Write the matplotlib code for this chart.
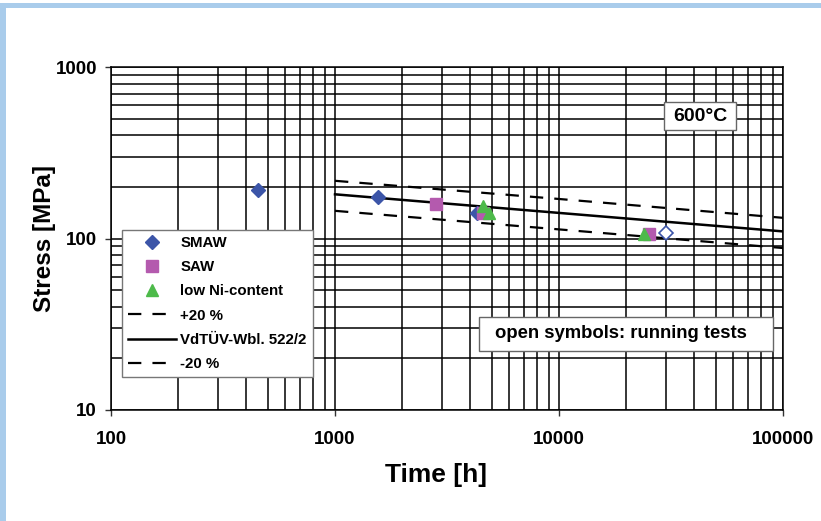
import matplotlib
matplotlib.use('Agg')
import matplotlib.pyplot as plt
from matplotlib.patches import Rectangle
from matplotlib.lines import Line2D
from matplotlib.ticker import FixedLocator, FixedFormatter, LogLocator, NullFormatter

plt.rcParams['font.family'] = ['Liberation Sans', 'DejaVu Sans']
plt.rcParams['font.weight'] = 'bold'

# ---- data ----
smaw_time = [452, 1563, 4310]
smaw_stress = [192, 175, 141]
saw_time = [2830, 4590, 25200]
saw_stress = [159, 141, 106]
lowni_time = [4590, 4880, 23900]
lowni_stress = [155, 141, 106]
running_smaw_time = [30000]
running_smaw_stress = [107]

curve_time = [1000, 10000, 100000]
vdtuv_stress = [181, 141, 110]
plus20_stress = [217, 170, 132]
minus20_stress = [145, 113, 88]

x_ticks = [100, 1000, 10000, 100000]
x_ticklabels = ['100', '1000', '10000', '100000']
y_ticks = [10, 100, 1000]
y_ticklabels = ['10', '100', '1000']

W, H = 821, 521
fig = plt.figure(figsize=(W / 100, H / 100), dpi=100)


def fx(px):
    return px / W


def fy(py):
    return 1 - py / H


# light blue frame
fig.add_artist(Rectangle((0, 0), fx(6), fy(3), transform=fig.transFigure,
                         color='#A9CCEB', lw=0, zorder=0))
fig.add_artist(Rectangle((0, fy(8)), 1, 5 / H, transform=fig.transFigure,
                         color='#A9CCEB', lw=0, zorder=0))

ax = fig.add_axes([fx(111), fy(410), fx(783) - fx(111), fy(67) - fy(410)])
ax.set_xscale('log')
ax.set_yscale('log')
ax.set_xlim(100, 100000)
ax.set_ylim(10, 1000)

ax.xaxis.set_major_locator(FixedLocator(x_ticks))
ax.xaxis.set_major_formatter(FixedFormatter(x_ticklabels))
ax.yaxis.set_major_locator(FixedLocator(y_ticks))
ax.yaxis.set_major_formatter(FixedFormatter(y_ticklabels))
ax.xaxis.set_minor_locator(LogLocator(base=10, subs=range(2, 10)))
ax.yaxis.set_minor_locator(LogLocator(base=10, subs=range(2, 10)))
ax.xaxis.set_minor_formatter(NullFormatter())
ax.yaxis.set_minor_formatter(NullFormatter())

ax.grid(True, which='both', color='black', lw=1.1)
ax.set_axisbelow(True)
ax.tick_params(which='major', direction='out', length=4, width=1, color='#333333',
               labelsize=13.5)
ax.tick_params(axis='x', which='major', pad=11)
ax.tick_params(axis='y', which='major', pad=6)
ax.tick_params(which='minor', length=0)
for lbl in ax.get_xticklabels() + ax.get_yticklabels():
    lbl.set_fontweight('bold')
for s in ax.spines.values():
    s.set_color('black')
    s.set_linewidth(1.1)

dash = (0, (6, 5))
ax.plot(curve_time, plus20_stress, color='black', lw=1.6, linestyle=dash, zorder=3)
ax.plot(curve_time, vdtuv_stress, color='black', lw=1.8, zorder=3)
ax.plot(curve_time, minus20_stress, color='black', lw=1.6, linestyle=dash, zorder=3)

blue = '#3C55A8'
mag = '#B45AAE'
green = '#4DBA4A'
ax.plot(smaw_time, smaw_stress, linestyle='none', marker='D', ms=6.8, color=blue, zorder=4)
ax.plot(saw_time, saw_stress, linestyle='none', marker='s', ms=8, color=mag, zorder=5)
ax.plot(lowni_time, lowni_stress, linestyle='none', marker='^', ms=9, color=green, zorder=6)
ax.plot(running_smaw_time, running_smaw_stress, linestyle='none', marker='D', ms=6.8,
        mfc='white', mec=blue, mew=1.2, zorder=4)

handles = [
    Line2D([], [], linestyle='none', marker='D', ms=6.8, color=blue),
    Line2D([], [], linestyle='none', marker='s', ms=8, color=mag),
    Line2D([], [], linestyle='none', marker='^', ms=9, color=green),
    Line2D([], [], color='black', lw=1.6, linestyle=dash),
    Line2D([], [], color='black', lw=1.8),
    Line2D([], [], color='black', lw=1.6, linestyle=dash),
]
labels = ['SMAW', 'SAW', 'low Ni-content', '+20 %', 'VdTÜV-Wbl. 522/2', '-20 %']
leg = ax.legend(handles, labels, loc='upper left',
                bbox_to_anchor=(fx(122), fy(230)), bbox_transform=fig.transFigure,
                fancybox=False, framealpha=1, edgecolor='#777777',
                prop={'size': 10.8, 'weight': 'bold'}, handlelength=3.2,
                handletextpad=0.28, labelspacing=0.68, borderpad=0.4,
                borderaxespad=0)
leg.get_frame().set_linewidth(1.0)
leg.set_zorder(10)

# annotation boxes
fig.add_artist(Rectangle((fx(664), fy(130)), fx(736) - fx(664), fy(102) - fy(130),
                         transform=fig.transFigure, fc='white', ec='#666666', lw=1.0,
                         zorder=5))
fig.text(fx(700), fy(116.5), '600°C', ha='center', va='center', fontsize=14,
         fontweight='bold', zorder=6)

fig.add_artist(Rectangle((fx(479), fy(351)), fx(773) - fx(479), fy(317) - fy(351),
                         transform=fig.transFigure, fc='white', ec='#666666', lw=1.0,
                         zorder=5))
fig.text(fx(621), fy(334), 'open symbols: running tests', ha='center', va='center',
         fontsize=13.3, fontweight='bold', zorder=6)

fig.text(fx(436), fy(475), 'Time [h]', ha='center', va='center', fontsize=19,
         fontweight='bold')
fig.text(fx(45), fy(238), 'Stress [MPa]', ha='center', va='center', fontsize=17.5,
         fontweight='bold', rotation=90)

fig.savefig('out.png', dpi=100)
